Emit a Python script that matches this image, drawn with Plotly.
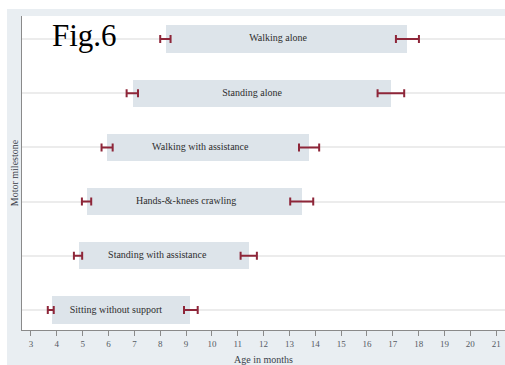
import plotly.graph_objects as go

# Motor milestones, bottom to top
milestones = [
    "Sitting without support",
    "Standing with assistance",
    "Hands-&-knees crawling",
    "Walking with assistance",
    "Standing alone",
    "Walking alone",
]
# Age (months) at which the window of achievement opens / closes,
# with the confidence limits of each end
start = [3.81, 4.84, 5.18, 5.95, 6.93, 8.21]
start_lo = [3.65, 4.66, 4.97, 5.73, 6.70, 8.00]
start_hi = [3.88, 4.98, 5.33, 6.16, 7.14, 8.40]
end = [9.15, 11.42, 13.48, 13.77, 16.91, 17.56]
end_lo = [8.92, 11.11, 13.03, 13.37, 16.41, 17.12]
end_hi = [9.45, 11.74, 13.92, 14.15, 17.44, 18.01]
age_ticks = list(range(3, 22))

pos = list(range(1, len(milestones) + 1))
serif = "Liberation Serif, Times New Roman, serif"
bar_fill = "#dde4ea"
ci_color = "#8e2639"

W, H = 505, 365
m_l, m_r, m_t, m_b = 22, 0, 16, 35
pw, ph = W - m_l - m_r, H - m_t - m_b

fig = go.Figure()

# Window of achievement bars
fig.add_trace(go.Bar(
    orientation="h",
    y=pos,
    x=[e - s for s, e in zip(start, end)],
    base=start,
    width=0.5,
    marker=dict(color=bar_fill, line=dict(width=0)),
    hoverinfo="skip",
    showlegend=False,
))

# Confidence intervals at both ends of each window
for c, lo, hi in ((start, start_lo, start_hi), (end, end_lo, end_hi)):
    fig.add_trace(go.Scatter(
        x=c, y=pos, mode="markers",
        marker=dict(size=1, color="rgba(0,0,0,0)"),
        error_x=dict(
            type="data", symmetric=False,
            array=[h - v for v, h in zip(c, hi)],
            arrayminus=[v - l for v, l in zip(c, lo)],
            color=ci_color, thickness=2, width=4,
        ),
        hoverinfo="skip", showlegend=False,
    ))

# Milestone names written inside the bars
fig.add_trace(go.Scatter(
    x=[(a + b) / 2 for a, b in zip(start_lo, end_lo)],
    y=pos,
    mode="text",
    text=milestones,
    textposition="middle center",
    textfont=dict(family=serif, size=10, color="#2e2e2e"),
    hoverinfo="skip", showlegend=False,
))

fig.update_layout(
    width=W, height=H,
    margin=dict(l=m_l, r=m_r, t=m_t, b=m_b, autoexpand=False),
    paper_bgcolor="#e9eef2",
    plot_bgcolor="#ffffff",
    showlegend=False,
    bargap=0,
    font=dict(family=serif, color="#3b3f4a"),
    xaxis=dict(
        range=[2.652, 21.34],
        tickmode="array", tickvals=age_ticks,
        ticktext=[str(t) for t in age_ticks],
        ticks="outside", ticklen=5, tickwidth=1, tickcolor="#8a8a8a",
        tickfont=dict(family=serif, size=9, color="#555a63"),
        showgrid=False, zeroline=False,
        showline=True, linecolor="#8a8a8a", linewidth=1,
        title=dict(text="Age in months", standoff=10,
                   font=dict(family=serif, size=10, color="#3b3f4a")),
    ),
    yaxis=dict(
        range=[0.631, 6.424],
        tickmode="array", tickvals=pos,
        showticklabels=False, ticks="",
        showgrid=True, gridcolor="#ececec", gridwidth=1.5,
        zeroline=False,
        showline=True, linecolor="#8a8a8a", linewidth=1,
        title=dict(text="Motor milestone", standoff=0,
                   font=dict(family=serif, size=10, color="#3b3f4a")),
    ),
    annotations=[dict(
        text="Fig.6", xref="paper", yref="paper",
        x=(50 - m_l) / pw, y=(H - m_b - 35) / ph,
        xanchor="left", yanchor="middle", showarrow=False,
        font=dict(family=serif, size=31, color="#000000"),
    )],
    shapes=[
        # thin white border around the figure background
        dict(type="rect", xref="paper", yref="paper", layer="above",
             x0=-m_l / pw, x1=(7 - m_l) / pw, y0=-m_b / ph - 0.1, y1=(H - m_b) / ph + 0.1,
             fillcolor="#ffffff", line=dict(width=0)),
        dict(type="rect", xref="paper", yref="paper", layer="above",
             x0=-m_l / pw, x1=1.1, y0=(H - m_b - 9) / ph, y1=(H - m_b) / ph + 0.1,
             fillcolor="#ffffff", line=dict(width=0)),
    ],
)

fig.write_html("out.html")
